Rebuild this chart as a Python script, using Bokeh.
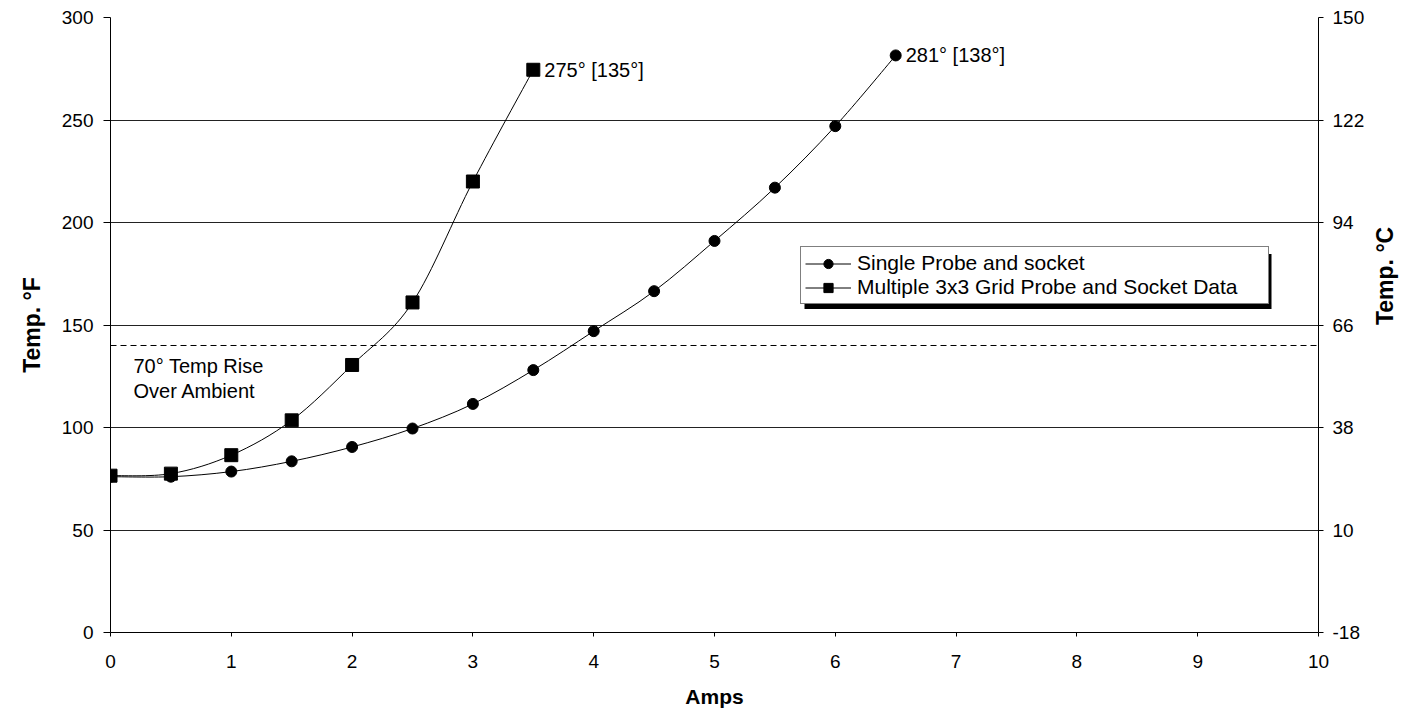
import math
import numpy as np
from bokeh.plotting import figure
from bokeh.models import (Range1d, LinearAxis, FixedTicker, Span, Legend, LegendItem,
                          BoxAnnotation, ColumnDataSource)
from bokeh.core.properties import value
from bokeh.embed import file_html
from bokeh.resources import INLINE

# ---------------- data ----------------
single_amps = [0, 0.5, 1, 1.5, 2, 2.5, 3, 3.5, 4, 4.5, 5, 5.5, 6, 6.5]
single_temp_f = [76, 76, 78.5, 83.5, 90.5, 99.5, 111.5, 128, 147, 166.5, 191, 217, 247, 281.5]
multi_amps = [0, 0.5, 1, 1.5, 2, 2.5, 3, 3.5]
multi_temp_f = [76.5, 77.5, 86.5, 103.5, 130.5, 161, 220, 274.5]
series_names = ["Single Probe and socket", "Multiple 3x3 Grid Probe and Socket Data"]
f_ticks = [0, 50, 100, 150, 200, 250, 300]
c_tick_labels = ["-18", "10", "38", "66", "94", "122", "150"]
x_ticks = [0, 1, 2, 3, 4, 5, 6, 7, 8, 9, 10]
threshold_f = 140
threshold_text = "70° Temp Rise\nOver Ambient"
end_labels_multi = ["275° [135°]"]
end_labels_single = ["281° [138°]"]
x_title = "Amps"
y_title_left = "Temp. °F"
y_title_right = "Temp. °C"

FONT = "Liberation Sans"


def smooth_segments(xs, ys):
    """Bezier control points (Catmull-Rom style) for a smoothed line through the points."""
    x = np.asarray(xs, float)
    y = np.asarray(ys, float)
    n = len(x)
    xp = np.concatenate([[x[0]], x, [x[-1]]])
    yp = np.concatenate([[y[0]], y, [y[-1]]])
    d = dict(x0=[], y0=[], x1=[], y1=[], cx0=[], cy0=[], cx1=[], cy1=[])
    for i in range(n - 1):
        j = i + 1
        d["x0"].append(xp[j]); d["y0"].append(yp[j])
        d["x1"].append(xp[j + 1]); d["y1"].append(yp[j + 1])
        d["cx0"].append(xp[j] + (xp[j + 1] - xp[j - 1]) / 6.0)
        d["cy0"].append(yp[j] + (yp[j + 1] - yp[j - 1]) / 6.0)
        d["cx1"].append(xp[j + 1] - (xp[j + 2] - xp[j]) / 6.0)
        d["cy1"].append(yp[j + 1] - (yp[j + 2] - yp[j]) / 6.0)
    return ColumnDataSource(d)


p = figure(width=1422, height=710, x_range=Range1d(0, 10), y_range=Range1d(0, 300),
           output_backend="svg", toolbar_location=None,
           min_border_left=110, min_border_right=104, min_border_top=17, min_border_bottom=77)
p.outline_line_color = None
p.background_fill_color = "white"
p.border_fill_color = "white"

# grid
p.xgrid.grid_line_color = None
p.ygrid.ticker = FixedTicker(ticks=f_ticks)
p.ygrid.grid_line_color = "#222222"
p.ygrid.grid_line_width = 1

# axes
for ax in [p.xaxis[0], p.yaxis[0]]:
    ax.axis_line_color = "black"
    ax.major_tick_line_color = "black"
    ax.minor_tick_line_color = None
    ax.major_tick_in = 0
    ax.major_label_text_font = FONT
    ax.major_label_text_font_size = "19px"
    ax.major_label_text_color = "black"
    ax.axis_label_text_font = FONT
    ax.axis_label_text_font_style = "bold"
    ax.axis_label_text_color = "black"

p.xaxis.ticker = FixedTicker(ticks=x_ticks)
p.xaxis.axis_label = x_title
p.xaxis.axis_label_text_font_size = "21px"
p.xaxis.major_tick_out = 4
p.xaxis.major_label_standoff = 18
p.xaxis.axis_label_standoff = 14

p.yaxis.ticker = FixedTicker(ticks=f_ticks)
p.yaxis.axis_label = y_title_left
p.yaxis.axis_label_text_font_size = "23px"
p.yaxis.major_tick_out = 7
p.yaxis.major_label_standoff = 10
p.yaxis.axis_label_standoff = 14

p.extra_y_ranges = {"c": Range1d(0, 300)}
raxis = LinearAxis(y_range_name="c", ticker=FixedTicker(ticks=f_ticks),
                   major_label_overrides={t: lab for t, lab in zip(f_ticks, c_tick_labels)})
raxis.axis_label = y_title_right
raxis.axis_label_orientation = math.pi / 2
raxis.axis_label_text_align = "center"
raxis.axis_label_text_font = FONT
raxis.axis_label_text_font_style = "bold"
raxis.axis_label_text_font_size = "23px"
raxis.axis_label_text_color = "black"
raxis.axis_label_standoff = 18
raxis.major_label_text_font = FONT
raxis.major_label_text_font_size = "19px"
raxis.major_label_text_color = "black"
raxis.major_tick_in = 0
raxis.major_tick_out = 5
raxis.major_label_standoff = 9
raxis.minor_tick_line_color = None
raxis.axis_line_color = "black"
p.add_layout(raxis, "right")

# threshold dashed line
p.add_layout(Span(location=threshold_f, dimension="width", line_color="black",
                  line_width=1.2, line_dash="6 4"))
p.text(x=[0.19], y=[124], text=[threshold_text], text_font=value(FONT),
       text_font_size="20px", text_baseline="middle", text_align="left",
       text_color="black", text_line_height=1.15)

# series
s_src = smooth_segments(single_amps, single_temp_f)
m_src = smooth_segments(multi_amps, multi_temp_f)
s_line = p.bezier(x0="x0", y0="y0", x1="x1", y1="y1", cx0="cx0", cy0="cy0", cx1="cx1", cy1="cy1",
                  source=s_src, line_color="black", line_width=1)
m_line = p.bezier(x0="x0", y0="y0", x1="x1", y1="y1", cx0="cx0", cy0="cy0", cx1="cx1", cy1="cy1",
                  source=m_src, line_color="black", line_width=1)
s_pts = p.scatter(single_amps, single_temp_f, marker="circle", size=11,
                  fill_color="black", line_color="black")
m_pts = p.scatter(multi_amps, multi_temp_f, marker="square", size=13,
                  fill_color="black", line_color="black")

# end labels
p.text(x=multi_amps[-1:], y=multi_temp_f[-1:], text=end_labels_multi, x_offset=11,
       text_font=value(FONT), text_font_size="20px", text_baseline="middle", text_color="black")
p.text(x=single_amps[-1:], y=single_temp_f[-1:], text=end_labels_single, x_offset=10,
       text_font=value(FONT), text_font_size="20px", text_baseline="middle", text_color="black")

# legend shadow (data coordinates of the legend box shifted by a few pixels)
px_per_x = 1208 / 10.0
px_per_y = 616 / 300.0
leg_left_px, leg_bottom_px, leg_w, leg_h = 690, 328, 467, 55
shadow = BoxAnnotation(left=(leg_left_px + 4) / px_per_x,
                       right=(leg_left_px + leg_w + 4) / px_per_x,
                       bottom=(leg_bottom_px - 4) / px_per_y,
                       top=(leg_bottom_px + leg_h - 4) / px_per_y,
                       fill_color="black", fill_alpha=1, line_color=None, level="underlay")
p.add_layout(shadow)

legend = Legend(items=[LegendItem(label=series_names[0], renderers=[s_line, s_pts]),
                       LegendItem(label=series_names[1], renderers=[m_line, m_pts])],
                location=(leg_left_px, leg_bottom_px), orientation="vertical",
                padding=4, spacing=0, margin=0, glyph_width=46, glyph_height=23,
                label_height=23, label_width=407, label_standoff=6,
                label_text_font=FONT, label_text_font_size="21px", label_text_color="black",
                border_line_color="black", border_line_width=1,
                background_fill_color="white", background_fill_alpha=1)
p.add_layout(legend)

open("out.html", "w").write(file_html(p, INLINE))
